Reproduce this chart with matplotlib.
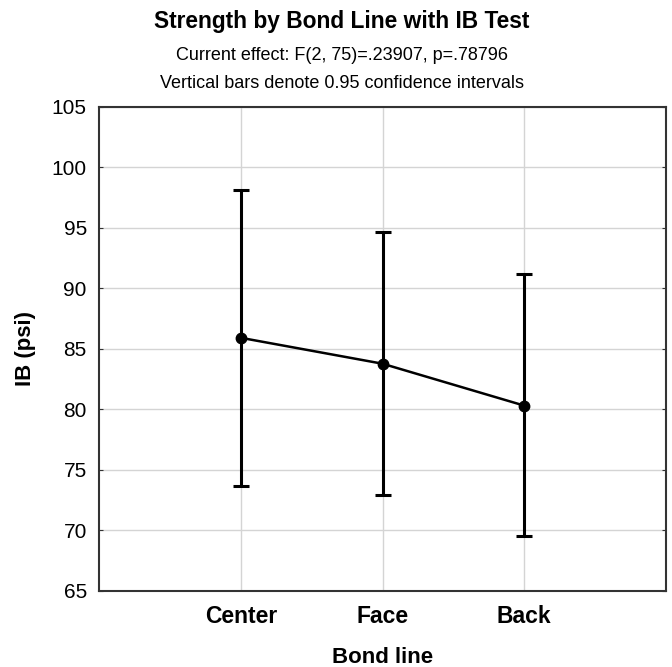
import matplotlib
matplotlib.use("Agg")
import matplotlib.pyplot as plt

plt.rcParams['font.family'] = ['Liberation Sans', 'DejaVu Sans']

# Means and 95% confidence limits of IB strength per bond line
bond_lines = ['Center', 'Face', 'Back']
ib_mean = [85.9, 83.76, 80.3]
ib_upper = [98.15, 94.62, 91.2]
ib_lower = [73.65, 72.92, 69.48]
y_ticks = [65, 70, 75, 80, 85, 90, 95, 100, 105]

positions = list(range(1, len(bond_lines) + 1))
err_low = [m - lo for m, lo in zip(ib_mean, ib_lower)]
err_high = [hi - m for m, hi in zip(ib_mean, ib_upper)]

fig = plt.figure(figsize=(6.72, 6.67), dpi=100)
ax = fig.add_axes([0.1478, 0.1144, 0.8428, 0.7256])

ax.errorbar(positions, ib_mean, yerr=[err_low, err_high], color='black',
            linewidth=1.8, elinewidth=2.2, capsize=5.5, capthick=2.2,
            marker='o', markersize=7.5, zorder=3)

ax.set_xlim(0, 4)
ax.set_ylim(65, 105)
ax.set_xticks(positions)
ax.set_xticklabels(bond_lines, fontsize=16.5, fontweight='bold')
ax.set_yticks(y_ticks)
ax.tick_params(axis='y', labelsize=15, length=3, direction='in', pad=9,
               right=True, color='#333333')
ax.tick_params(axis='x', length=0, pad=10)

ax.grid(True, color='#d4d4d4', linewidth=1.0, zorder=0)
ax.set_axisbelow(True)
for side in ax.spines.values():
    side.set_color('#333333')
    side.set_linewidth(1.5)

ax.set_xlabel('Bond line', fontsize=16, fontweight='bold', labelpad=14)
ax.set_ylabel('IB (psi)', fontsize=16, fontweight='bold', labelpad=11)

fig.text(0.509, 0.968, 'Strength by Bond Line with IB Test', ha='center', va='center',
         fontsize=16.4, fontweight='bold')
fig.text(0.509, 0.917, 'Current effect: F(2, 75)=.23907, p=.78796', ha='center',
         va='center', fontsize=13)
fig.text(0.509, 0.875, 'Vertical bars denote 0.95 confidence intervals', ha='center',
         va='center', fontsize=13)

fig.savefig('out.png', dpi=100)
